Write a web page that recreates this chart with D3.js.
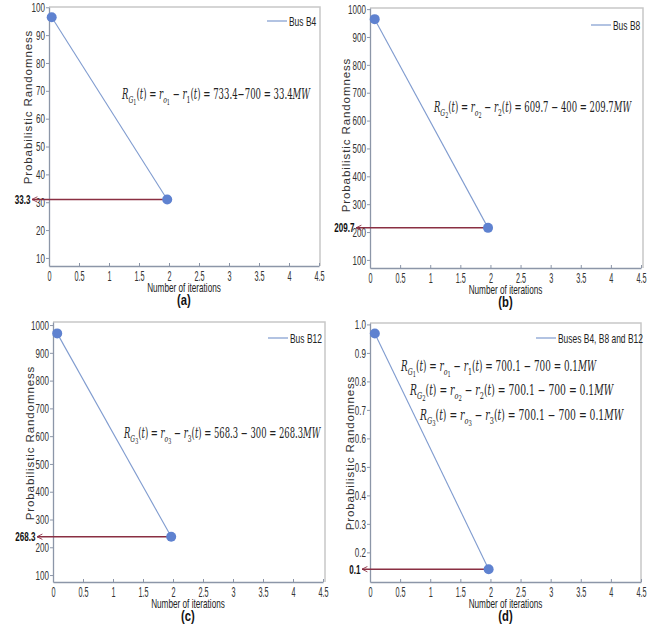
<!DOCTYPE html>
<html>
<head>
<meta charset="utf-8">
<script src="https://cdn.jsdelivr.net/npm/d3@7"></script>
<style>
  body { margin: 0; background: #fff; }
  svg { display: block; }
  .narrow { font-family: "Liberation Sans Narrow", "Arial Narrow", "Liberation Sans", sans-serif; }
</style>
</head>
<body>
<div id="chart"></div>
<script>
// values
const panelTags = ['(a)', '(b)', '(c)', '(d)'];
const legendLabels = ['Bus B4', 'Bus B8', 'Bus B12', 'Buses B4, B8 and B12'];
const xTickValues = [0, 0.5, 1, 1.5, 2, 2.5, 3, 3.5, 4, 4.5];
const yTickValues = [
    [10, 20, 30, 40, 50, 60, 70, 80, 90, 100],
    [100, 200, 300, 400, 500, 600, 700, 800, 900, 1000],
    [100, 200, 300, 400, 500, 600, 700, 800, 900, 1000],
    [0.2, 0.3, 0.4, 0.5, 0.6, 0.7, 0.8, 0.9, 1.0]
];
const yDomains = [[7.1, 100.1], [71, 1004], [75, 1011], [0.096, 1.005]];
const iterations = [[0.045, 1.97], [0.078, 1.96], [0.07, 1.97], [0.08, 1.97]];
const randomness = [[96.4, 31], [964, 215], [970, 238], [0.968, 0.141]];
const markLabels = ['33.3', '209.7', '268.3', '0.1'];

// formula pieces: t = text, i = italic, s = subscript level
const formulaA = [[
    {t: 'R', i: 1}, {t: 'G', i: 1, s: 1}, {t: '1', s: 2}, {t: '('}, {t: 't', i: 1}, {t: ') = '},
    {t: 'r', i: 1}, {t: 'o', i: 1, s: 1}, {t: '1', s: 2}, {t: ' − '}, {t: 'r', i: 1}, {t: '1', s: 1},
    {t: '('}, {t: 't', i: 1}, {t: ') = 733.4−700 = 33.4'}, {t: 'MW', i: 1}
]];
const formulaB = [[
    {t: 'R', i: 1}, {t: 'G', i: 1, s: 1}, {t: '2', s: 2}, {t: '('}, {t: 't', i: 1}, {t: ') = '},
    {t: 'r', i: 1}, {t: 'o', i: 1, s: 1}, {t: '2', s: 2}, {t: ' − '}, {t: 'r', i: 1}, {t: '2', s: 1},
    {t: '('}, {t: 't', i: 1}, {t: ') = 609.7 − 400 = 209.7'}, {t: 'MW', i: 1}
]];
const formulaC = [[
    {t: 'R', i: 1}, {t: 'G', i: 1, s: 1}, {t: '3', s: 2}, {t: '('}, {t: 't', i: 1}, {t: ') = '},
    {t: 'r', i: 1}, {t: 'o', i: 1, s: 1}, {t: '3', s: 2}, {t: ' − '}, {t: 'r', i: 1}, {t: '3', s: 1},
    {t: '('}, {t: 't', i: 1}, {t: ') = 568.3 − 300 = 268.3'}, {t: 'MW', i: 1}
]];
const formulaD = [1, 2, 3].map(k => [
    {t: 'R', i: 1}, {t: 'G', i: 1, s: 1}, {t: String(k), s: 2}, {t: '('}, {t: 't', i: 1}, {t: ') = '},
    {t: 'r', i: 1}, {t: 'o', i: 1, s: 1}, {t: String(k), s: 2}, {t: ' − '}, {t: 'r', i: 1}, {t: String(k), s: 1},
    {t: '('}, {t: 't', i: 1}, {t: ') = 700.1 − 700 = 0.1'}, {t: 'MW', i: 1}
]);
const formulas = [formulaA, formulaB, formulaC, formulaD];

// layout of each panel
const frames = [
    {left: 49, right: 320, top: 7, bottom: 266, xEnd: 319, tip: 31, yTitle: [28, 107],
        formula: [[122, 99, 190]], legend: [267, 21]},
    {left: 370, right: 643, top: 8, bottom: 268, xEnd: 641, tip: 355, yTitle: [346, 135],
        formula: [[434, 112, 199]], legend: [591, 25]},
    {left: 53, right: 325, top: 322, bottom: 582, xEnd: 323, tip: 36, yTitle: [30, 443],
        formula: [[124, 438, 198]], legend: [268, 338]},
    {left: 370, right: 641, top: 323, bottom: 582, xEnd: 641, tip: 361, yTitle: [350, 453],
        formula: [[401, 371, 197], [410, 395, 205], [420, 420, 205]], legend: [536, 338]}
];

const lineColor = '#7f9bcf';
const dotColor = '#5f82d0';
const refColor = '#8a2f42';

// squeeze a text horizontally about its own x so it looks like a condensed face
function condense(sel, factor) {
    sel.each(function () {
        const ax = +this.getAttribute('x') || 0;
        d3.select(this).attr('transform', `translate(${ax * (1 - factor)},0) scale(${factor},1)`);
    });
}

const svg = d3.select('#chart').append('svg')
    .attr('width', 658)
    .attr('height', 635);

// open arrowhead; drawn pointing along the line, so it points left at the end
svg.append('defs').append('marker')
    .attr('id', 'arrow')
    .attr('viewBox', '0 0 10 10')
    .attr('refX', 9).attr('refY', 5)
    .attr('markerWidth', 4.5).attr('markerHeight', 4.5)
    .attr('orient', 'auto')
    .append('path')
    .attr('d', 'M1,1 L9,5 L1,9')
    .attr('fill', 'none')
    .attr('stroke', refColor)
    .attr('stroke-width', 1.3);

function drawFormula(g, pieces, x, y, width) {
    const text = g.append('text')
        .attr('x', x).attr('y', y)
        .style('font-family', '"DejaVu Serif", "Liberation Serif", serif')
        .style('font-size', '14px')
        .attr('fill', '#222');
    const shift = [0, 4, 6.5];
    const size = [14, 10, 8];
    let cur = 0;
    pieces.forEach(p => {
        const lvl = p.s || 0;
        text.append('tspan')
            .attr('dy', shift[lvl] - cur)
            .style('font-style', p.i ? 'italic' : 'normal')
            .style('font-size', size[lvl] + 'px')
            .text(p.t);
        cur = shift[lvl];
    });
    const w = text.node().getBBox().width;
    text.call(condense, width / w);
}

frames.forEach((f, i) => {
    const g = svg.append('g');

    const x = d3.scaleLinear().domain([0, 4.5]).range([f.left, f.xEnd]);
    const y = d3.scaleLinear().domain(yDomains[i]).range([f.bottom, f.top]);

    // frame (top and right)
    g.append('path')
        .attr('d', `M${f.left},${f.top}H${f.right}V${f.bottom}`)
        .attr('fill', 'none')
        .attr('stroke', '#c8c8c8')
        .attr('stroke-width', 1.5);

    // axes
    const fmt = i === 3 ? d3.format('.1f') : d3.format('d');
    const yAxis = g.append('g')
        .attr('transform', `translate(${f.left},0)`)
        .call(d3.axisLeft(y).tickValues(yTickValues[i]).tickFormat(fmt)
            .tickSizeInner(3).tickSizeOuter(0).tickPadding(1));
    const xAxis = g.append('g')
        .attr('transform', `translate(0,${f.bottom})`)
        .call(d3.axisBottom(x).tickValues(xTickValues).tickFormat(d3.format(''))
            .tickSizeInner(-3).tickSizeOuter(0).tickPadding(5));

    [xAxis, yAxis].forEach(ax => {
        ax.select('.domain').attr('stroke', '#8c96a8').attr('stroke-width', 1.3);
        ax.selectAll('.tick line').attr('stroke', '#8c96a8');
        ax.selectAll('.tick text')
            .attr('class', 'narrow')
            .attr('fill', '#333');
    });
    yAxis.selectAll('.tick text').style('font-size', '13px').call(condense, 0.62);
    xAxis.selectAll('.tick text').style('font-size', '14px').attr('dy', '0.71em').call(condense, 0.52);

    // series line
    const pts = iterations[i].map((v, k) => [v, randomness[i][k]]);
    g.append('path')
        .datum(pts)
        .attr('d', d3.line().x(d => x(d[0])).y(d => y(d[1])))
        .attr('fill', 'none')
        .attr('stroke', lineColor)
        .attr('stroke-width', 1.1);

    // reference line from the end point back past the axis, with its label
    const last = pts[pts.length - 1];
    g.append('line')
        .attr('x1', x(last[0])).attr('x2', f.tip + 1)
        .attr('y1', y(last[1])).attr('y2', y(last[1]))
        .attr('stroke', refColor)
        .attr('stroke-width', 1.5)
        .attr('marker-end', 'url(#arrow)');

    g.append('text')
        .attr('class', 'narrow')
        .attr('x', f.tip - 0.5)
        .attr('y', y(last[1]))
        .attr('dy', '0.35em')
        .attr('text-anchor', 'end')
        .style('font-size', '13px')
        .style('font-weight', 'bold')
        .attr('fill', '#111')
        .text(markLabels[i])
        .call(condense, 0.62);

    g.selectAll('circle.pt')
        .data(pts)
        .join('circle')
        .attr('class', 'pt')
        .attr('cx', d => x(d[0]))
        .attr('cy', d => y(d[1]))
        .attr('r', 5)
        .attr('fill', dotColor);

    // legend
    g.append('line')
        .attr('x1', f.legend[0]).attr('x2', f.legend[0] + 20)
        .attr('y1', f.legend[1]).attr('y2', f.legend[1])
        .attr('stroke', lineColor)
        .attr('stroke-width', 1.2);
    g.append('text')
        .attr('class', 'narrow')
        .attr('x', f.legend[0] + 22)
        .attr('y', f.legend[1])
        .attr('dy', '0.35em')
        .style('font-size', '13px')
        .attr('fill', '#222')
        .text(legendLabels[i])
        .call(condense, 0.65);

    // axis titles and panel tag
    const cx = (f.left + f.xEnd) / 2;
    g.append('text')
        .attr('class', 'narrow')
        .attr('x', cx).attr('y', f.bottom + 26)
        .attr('text-anchor', 'middle')
        .style('font-size', '13px')
        .attr('fill', '#222')
        .text('Number of iterations')
        .call(condense, 0.63);
    g.append('text')
        .attr('class', 'narrow')
        .attr('x', cx).attr('y', f.bottom + 39)
        .attr('text-anchor', 'middle')
        .style('font-size', '15px')
        .style('font-weight', 'bold')
        .attr('fill', '#111')
        .text(panelTags[i])
        .call(condense, 0.75);
    g.append('text')
        .attr('transform', `translate(${f.yTitle[0]},${f.yTitle[1]}) rotate(-90)`)
        .attr('text-anchor', 'middle')
        .attr('dy', '0.35em')
        .style('font-family', '"Liberation Sans", Arial, sans-serif')
        .style('font-size', '11.5px')
        .style('letter-spacing', '0.9px')
        .attr('fill', '#333')
        .text('Probabilistic Randomness');

    formulas[i].forEach((pieces, k) => {
        const pos = f.formula[k];
        drawFormula(g, pieces, pos[0], pos[1], pos[2]);
    });
});
</script>
</body>
</html>
